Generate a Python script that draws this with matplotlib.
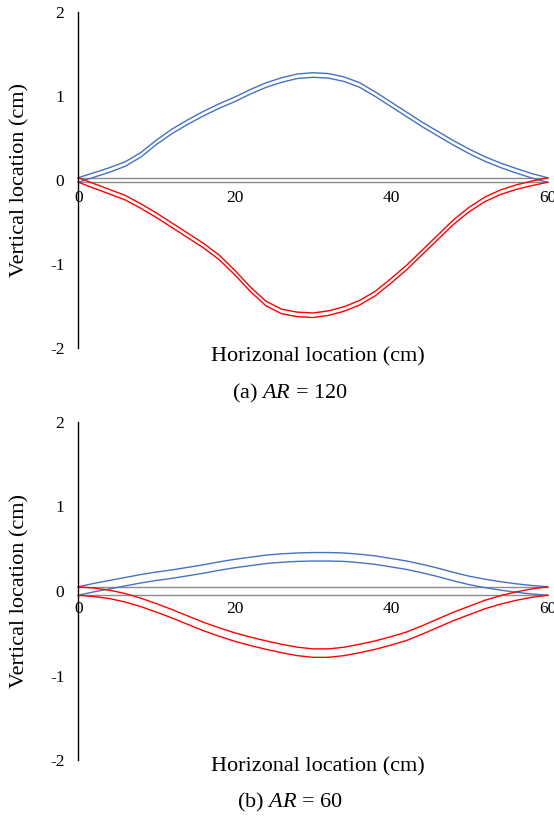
import numpy as np
import matplotlib
matplotlib.use("Agg")
import matplotlib.pyplot as plt

plt.rcParams['font.family'] = ['Liberation Serif', 'DejaVu Serif']
plt.rcParams['mathtext.fontset'] = 'custom'
plt.rcParams['mathtext.rm'] = 'Liberation Serif'
plt.rcParams['mathtext.it'] = 'Liberation Serif:italic'

# Horizontal positions (cm)
x_pos = [0, 2, 4, 6, 8, 10, 12, 14, 16, 18, 20, 22, 24, 26, 28, 30,
         32, 34, 36, 38, 40, 42, 44, 46, 48, 50, 52, 54, 56, 58, 60]

# (a) AR = 120 : centre lines of the two deformed beams (cm)
a_blue = [0, 0.06, 0.12, 0.19, 0.30, 0.45, 0.58, 0.69, 0.79, 0.88, 0.96, 1.05,
          1.13, 1.19, 1.235, 1.25, 1.24, 1.20, 1.13, 1.02, 0.90, 0.78, 0.66,
          0.55, 0.44, 0.34, 0.25, 0.175, 0.11, 0.05, 0]
a_red = [0, -0.07, -0.14, -0.21, -0.31, -0.42, -0.54, -0.66, -0.78, -0.92, -1.10,
         -1.30, -1.47, -1.565, -1.60, -1.61, -1.585, -1.535, -1.46, -1.35, -1.20,
         -1.04, -0.86, -0.68, -0.50, -0.35, -0.23, -0.145, -0.085, -0.04, 0]
a_half_thickness = 0.027

# (b) AR = 60
b_blue = [0, 0.04, 0.075, 0.11, 0.145, 0.175, 0.20, 0.23, 0.26, 0.295, 0.325,
          0.35, 0.375, 0.39, 0.40, 0.405, 0.405, 0.40, 0.385, 0.365, 0.335,
          0.305, 0.265, 0.22, 0.17, 0.125, 0.09, 0.06, 0.035, 0.015, 0]
b_red = [0, -0.015, -0.04, -0.08, -0.135, -0.20, -0.27, -0.345, -0.42, -0.485,
         -0.545, -0.595, -0.64, -0.68, -0.715, -0.735, -0.735, -0.715, -0.68,
         -0.64, -0.59, -0.535, -0.46, -0.38, -0.30, -0.23, -0.16, -0.105,
         -0.06, -0.025, 0]
b_half_thickness = 0.05

beam_x = [0, 60]
x_ticks = [0, 20, 40, 60]
y_ticks = [-2, -1, 0, 1, 2]
captions = [r"(a) $AR$ = 120", r"(b) $AR$ = 60"]

BLUE = '#4472C4'
RED = '#FF0000'
GRAY = '#8C8C8C'

W, H = 554, 818
fig = plt.figure(figsize=(W / 100, H / 100), dpi=100)

panels = [
    dict(blue=a_blue, red=a_red, t=a_half_thickness, top=12, bot=348,
         xlab_y=357, cap_y=393),
    dict(blue=b_blue, red=b_red, t=b_half_thickness, top=422, bot=760,
         xlab_y=767, cap_y=802),
]

for p, cap in zip(panels, captions):
    left, right = 78.3, 547.5
    ax = fig.add_axes([left / W, 1 - p['bot'] / H, (right - left) / W,
                       (p['bot'] - p['top']) / H])
    ax.set_xlim(0, 60)
    ax.set_ylim(-2, 2)
    t = p['t']
    # undeformed beam
    for s in (1, -1):
        ax.plot(beam_x, [s * t, s * t], color=GRAY, lw=1.0, clip_on=False)
    for key, col in (('blue', BLUE), ('red', RED)):
        c = np.array(p[key])
        ax.plot(x_pos, c + t, color=col, lw=1.0, clip_on=False,
                solid_joinstyle='round')
        ax.plot(x_pos, c - t, color=col, lw=1.0, clip_on=False,
                solid_joinstyle='round')

    for side in ('top', 'right'):
        ax.spines[side].set_visible(False)
    ax.spines['bottom'].set_position(('data', 0))
    ax.spines['bottom'].set_visible(False)
    ax.spines['left'].set_color('black')
    ax.spines['left'].set_linewidth(1.0)
    ax.set_xticks(x_ticks)
    ax.set_yticks(y_ticks)
    ax.set_xticklabels([str(v) for v in x_ticks])
    ax.set_yticklabels([str(v) for v in y_ticks])
    ax.tick_params(axis='x', length=0, pad=7.5, labelsize=12.5)
    ax.tick_params(axis='y', length=0, pad=10, labelsize=12.5)
    ax.patch.set_alpha(0)

    fig.text(318 / W, 1 - p['xlab_y'] / H, "Horizonal location (cm)",
             ha='center', va='center', fontsize=16)
    fig.text(290 / W, 1 - p['cap_y'] / H, cap, ha='center', va='center',
             fontsize=16)
    fig.text(20 / W, 1 - (p['top'] + p['bot']) / 2 / H,
             "Vertical location (cm)", rotation=90, ha='center',
             va='center', fontsize=16)

fig.savefig("out.png", dpi=100)
